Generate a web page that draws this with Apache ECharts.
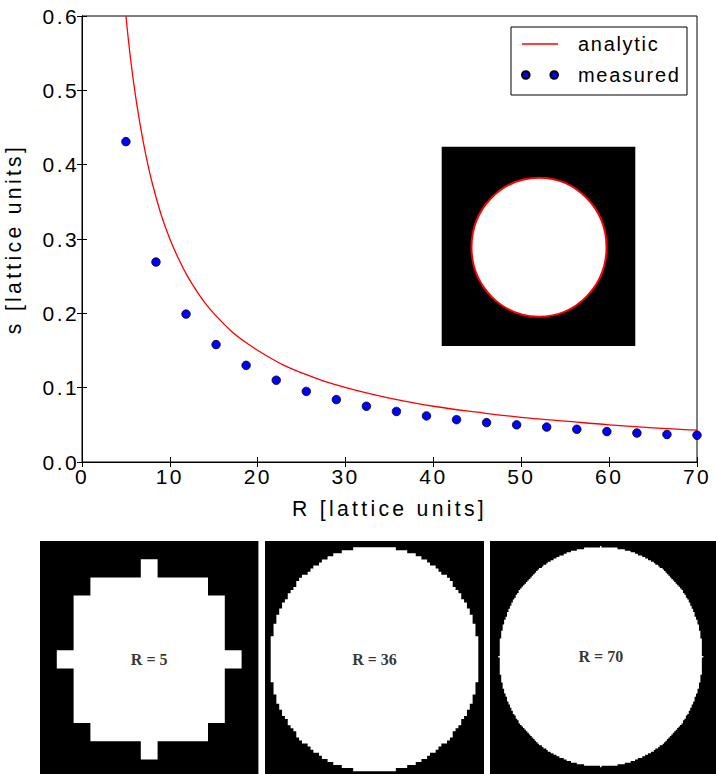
<!DOCTYPE html>
<html>
<head>
<meta charset="utf-8">
<script src="https://cdn.jsdelivr.net/npm/echarts@6/dist/echarts.min.js"></script>
<style>
  html, body { margin: 0; padding: 0; background: #fff; }
  #main { width: 716px; height: 774px; }
  #main text { letter-spacing: 2.4px; }
  #main text[style*="21.2px"] { letter-spacing: 3.3px; }
  #main text[style*="20px"] { letter-spacing: 1.7px; }
  #main text[style*="Serif"] { letter-spacing: 0; }
</style>
</head>
<body>
<div id="main"></div>
<script>
// Analytic surface term s(R), sampled along the curve
const analyticR = [5, 5.5, 6, 6.5, 7, 7.5, 8, 9, 10, 11, 12, 13, 14, 15, 17, 19, 21, 23, 25, 28, 31, 35, 40, 45, 50, 55, 60, 65, 70];
const analyticS = [0.600, 0.545, 0.500, 0.462, 0.429, 0.400, 0.375, 0.333, 0.300, 0.273, 0.250, 0.231, 0.214, 0.200, 0.176, 0.158, 0.143, 0.130, 0.120, 0.107, 0.097, 0.086, 0.075, 0.067, 0.060, 0.055, 0.050, 0.046, 0.043];

// Measured values
const measuredR = [5, 8.42, 11.84, 15.26, 18.68, 22.11, 25.53, 28.95, 32.37, 35.79, 39.21, 42.63, 46.05, 49.47, 52.89, 56.32, 59.74, 63.16, 66.58, 70];
const measuredS = [0.431, 0.269, 0.199, 0.158, 0.130, 0.110, 0.095, 0.084, 0.075, 0.068, 0.062, 0.057, 0.053, 0.050, 0.047, 0.044, 0.041, 0.039, 0.037, 0.036];

// Tick labels
const xTickLabels = ['0', '10', '20', '30', '40', '50', '60', '70'];
const yTickLabels = ['0.0', '0.1', '0.2', '0.3', '0.4', '0.5', '0.6'];

// Lattice discs: half-width (in cells) of each row, from the centre row outwards
const panelLabels = ['R = 5', 'R = 36', 'R = 70'];
const halfWidths5 = [5, 4, 4, 4, 3, 0];
const halfWidths36 = [36, 36, 36, 36, 36, 36, 36, 36, 35, 35, 35, 35, 34, 34, 34, 33, 33, 32, 32, 31,
  30, 30, 29, 28, 27, 27, 26, 25, 23, 22, 21, 19, 18, 16, 14, 11, 7];
const halfWidths70 = [70, 69, 69, 69, 69, 69, 69, 69, 69, 69, 69, 69, 68, 68, 68, 68, 68, 67, 67, 67,
  67, 66, 66, 66, 65, 65, 64, 64, 64, 63, 63, 62, 62, 61, 61, 60, 60, 59, 58, 58,
  57, 56, 56, 55, 54, 53, 52, 51, 50, 49, 48, 47, 46, 45, 44, 43, 42, 40, 39, 37,
  36, 34, 32, 30, 28, 25, 23, 20, 16, 11, 0];

const FONT = 'Liberation Sans';

// mirror the half-widths into full rows [y, halfWidth], bottom row first
function discRows(hw) {
  const rows = [];
  for (let i = hw.length - 1; i > 0; i--) rows.push([-i, hw[i]]);
  for (let i = 0; i < hw.length; i++) rows.push([i, hw[i]]);
  return rows;
}

// one staircase polygon per disc, traced through every row
function renderDisc(params, api) {
  if (params.dataIndexInside !== 0) return null;
  const n = params.dataInsideLength;
  const right = [], left = [];
  for (let i = 0; i < n; i++) {
    const y = api.value(0, i), hw = api.value(1, i);
    right.push(api.coord([hw + 0.5, y - 0.5]), api.coord([hw + 0.5, y + 0.5]));
    left.push(api.coord([-hw - 0.5, y - 0.5]), api.coord([-hw - 0.5, y + 0.5]));
  }
  left.reverse();
  return { type: 'polygon', shape: { points: right.concat(left) }, style: { fill: '#fff' } };
}

// pixel frames of the three lattice panels, with their cell ranges
const panelGrids = [
  { left: 40, top: 541, width: 218.4, height: 236.6 },
  { left: 265, top: 541, width: 219, height: 236.3 },
  { left: 490, top: 541, width: 230, height: 240 }
];
const panelX = [[-6.5, 6.5], [-38.5, 38.5], [-76.21, 81.98]];
const panelY = [[-6.5, 6.5], [-38.5, 38.5], [-79.2, 73.69]];
const panelRows = [discRows(halfWidths5), discRows(halfWidths36), discRows(halfWidths70)];

const chart = echarts.init(document.getElementById('main'), null, { renderer: 'svg' });

const grids = [{ left: 82, top: 16, width: 615, height: 446, show: true, borderColor: '#000', borderWidth: 1,
  backgroundColor: 'transparent', containLabel: false, outerBoundsMode: 'none' }];
panelGrids.forEach(g => grids.push(Object.assign({ show: true, backgroundColor: '#000', borderWidth: 0,
  containLabel: false, outerBoundsMode: 'none' }, g)));

const axisLine = { show: true, lineStyle: { color: '#000', width: 1 } };
const axisTick = { show: true, inside: true, length: 5, lineStyle: { color: '#000', width: 1 } };

const xAxes = [
  {
    type: 'value', gridIndex: 0, position: 'bottom', min: 0, max: 70, interval: 10,
    axisLine, axisTick, splitLine: { show: false },
    axisLabel: { fontSize: 21, color: '#000', fontFamily: FONT, margin: 4,
      formatter: v => xTickLabels[Math.round(v / 10)] },
    name: 'R [lattice units]', nameLocation: 'middle', nameGap: 35.5,
    nameTextStyle: { fontSize: 21.2, color: '#000', fontFamily: FONT }
  },
  {
    type: 'value', gridIndex: 0, position: 'top', min: 0, max: 70, interval: 10,
    axisLine, axisTick, splitLine: { show: false }, axisLabel: { show: false }
  }
];
const yAxes = [
  {
    type: 'value', gridIndex: 0, position: 'left', min: 0, max: 0.6, interval: 0.1,
    axisLine, axisTick, splitLine: { show: false },
    axisLabel: { fontSize: 21, color: '#000', fontFamily: FONT, margin: 3,
      formatter: v => yTickLabels[Math.round(v / 0.1)] },
    name: 's [lattice units]', nameLocation: 'middle', nameGap: 58,
    nameTextStyle: { fontSize: 21.2, color: '#000', fontFamily: FONT }
  },
  {
    type: 'value', gridIndex: 0, position: 'right', min: 0, max: 0.6, interval: 0.1,
    axisLine, axisTick, splitLine: { show: false }, axisLabel: { show: false }
  }
];
panelGrids.forEach((g, k) => {
  xAxes.push({ type: 'value', gridIndex: k + 1, min: panelX[k][0], max: panelX[k][1], show: false });
  yAxes.push({ type: 'value', gridIndex: k + 1, min: panelY[k][0], max: panelY[k][1], show: false });
});

const series = [
  {
    name: 'analytic', type: 'line', xAxisIndex: 0, yAxisIndex: 0,
    data: analyticR.map((r, i) => [r, analyticS[i]]),
    symbol: 'none', smooth: 0.4, clip: true,
    lineStyle: { color: '#ff0000', width: 1.3 }, itemStyle: { color: '#ff0000' }, z: 2
  },
  {
    name: 'measured', type: 'scatter', xAxisIndex: 0, yAxisIndex: 0,
    data: measuredR.map((r, i) => [r, measuredS[i]]),
    symbol: 'circle', symbolSize: 8.5,
    itemStyle: { color: '#0000ff', borderColor: '#000', borderWidth: 0.8, opacity: 1 }, z: 3
  }
];
panelRows.forEach((rows, k) => {
  series.push({
    type: 'custom', xAxisIndex: k + 2, yAxisIndex: k + 2, silent: true,
    data: rows, renderItem: renderDisc, z: 1
  });
  series.push({
    type: 'scatter', xAxisIndex: k + 2, yAxisIndex: k + 2, silent: true,
    data: [[0, 0]], symbolSize: 0, z: 5,
    label: { show: true, position: 'inside', formatter: panelLabels[k], color: '#000',
      fontFamily: 'Liberation Serif', fontWeight: 'bold', fontSize: 16 }
  });
});

chart.setOption({
  animation: false,
  backgroundColor: '#fff',
  grid: grids,
  xAxis: xAxes,
  yAxis: yAxes,
  legend: {
    orient: 'vertical', left: 511, top: 27,
    padding: [6, 4, 9, 10], itemGap: 9, itemWidth: 36, itemHeight: 8,
    borderColor: '#000', borderWidth: 1, borderRadius: 0, backgroundColor: '#fff',
    textStyle: { fontSize: 20, color: '#000', fontFamily: FONT, padding: [0, 0, 0, 15], width: 105, lineHeight: 22 },
    data: [
      { name: 'analytic', itemStyle: { opacity: 0 }, lineStyle: { color: '#ff0000', width: 1.3, opacity: 1 } },
      { name: 'measured', icon: 'path://M0,4a4,4 0 1,0 8,0a4,4 0 1,0 -8,0ZM30,4a4,4 0 1,0 8,0a4,4 0 1,0 -8,0Z' }
    ]
  },
  graphic: [
    { type: 'rect', shape: { x: 441.7, y: 146.7, width: 193.6, height: 199.3 }, style: { fill: '#000' }, z: 1 },
    { type: 'ellipse', shape: { cx: 539, cy: 247.2, rx: 67.5, ry: 69.5 },
      style: { fill: '#fff', stroke: '#ff0000', lineWidth: 2 }, z: 2 }
  ],
  series
});
</script>
</body>
</html>
